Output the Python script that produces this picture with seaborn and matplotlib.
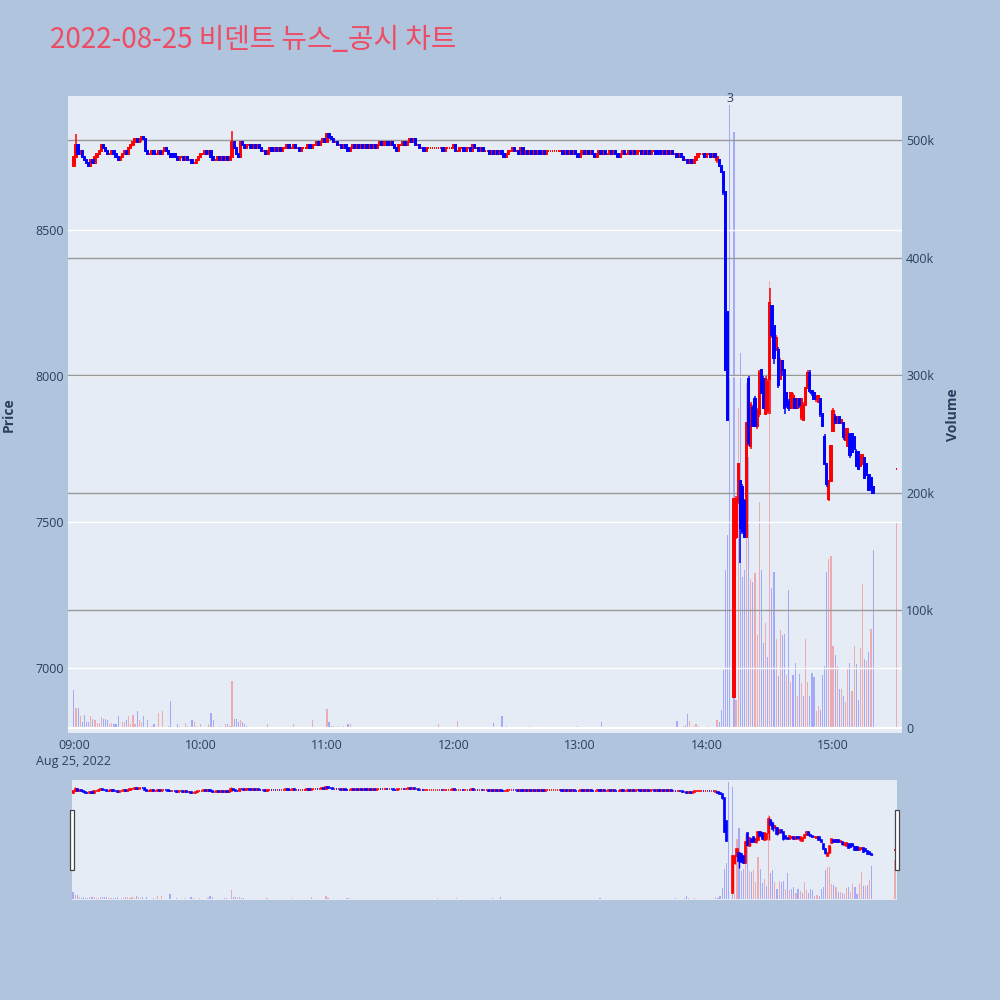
import numpy as np
import pandas as pd
import matplotlib
matplotlib.use("Agg")
import matplotlib.pyplot as plt
import seaborn as sns
from matplotlib.patches import Rectangle
from matplotlib.transforms import blended_transform_factory

# ---------------- data ----------------
title = "2022-08-25 비덴트 뉴스_공시 차트"
day = "2022-08-25"
first_open = 8720
prev_day_close = 8760

# 1-minute closes 09:00 - 14:04 (open = previous close)
calm_close = [
    8750, 8790, 8760, 8770, 8750, 8740, 8730, 8720, 8740, 8730,
    8750, 8760, 8770, 8790, 8780, 8770, 8760, 8760, 8770, 8760,
    8750, 8740, 8750, 8760, 8770, 8760, 8780, 8790, 8800, 8810,
    8800, 8810, 8820, 8810, 8770, 8760, 8760, 8770, 8760, 8760,
    8770, 8760, 8770, 8780, 8770, 8760, 8750, 8760, 8750, 8740,
    8750, 8750, 8740, 8750, 8740, 8740, 8730, 8730, 8740, 8750,
    8760, 8760, 8770, 8760, 8770, 8750, 8740, 8740, 8750, 8740,
    8750, 8740, 8750, 8740, 8750, 8800, 8780, 8760, 8750, 8800,
    8790, 8780, 8790, 8790, 8780, 8790, 8780, 8790, 8780, 8770,
    8770, 8760, 8770, 8780, 8770, 8780, 8770, 8780, 8770, 8780,
    8780, 8790, 8780, 8780, 8790, 8780, 8780, 8770, 8780, 8780,
    8780, 8790, 8780, 8790, 8790, 8800, 8790, 8800, 8810, 8800,
    8830, 8820, 8810, 8800, 8800, 8790, 8790, 8780, 8790, 8780,
    8770, 8780, 8790, 8780, 8790, 8780, 8790, 8780, 8790, 8780,
    8790, 8780, 8790, 8780, 8790, 8800, 8790, 8800, 8800, 8790,
    8800, 8790, 8780, 8770, 8790, 8790, 8800, 8790, 8800, 8810,
    8800, 8810, 8790, 8790, 8780, 8780, 8770, 8780, 8780, 8780,
    8780, 8780, 8780, 8780, 8780, 8770, 8780, 8780, 8780, 8780,
    8790, 8770, 8770, 8780, 8780, 8770, 8780, 8780, 8770, 8790,
    8780, 8780, 8770, 8780, 8770, 8770, 8770, 8760, 8770, 8760,
    8770, 8760, 8770, 8760, 8750, 8760, 8770, 8770, 8780, 8770,
    8770, 8760, 8780, 8760, 8770, 8760, 8770, 8760, 8770, 8760,
    8770, 8760, 8770, 8760, 8770, 8770, 8770, 8770, 8770, 8770,
    8770, 8770, 8760, 8770, 8760, 8770, 8760, 8770, 8760, 8750,
    8760, 8770, 8760, 8770, 8760, 8770, 8760, 8750, 8760, 8770,
    8760, 8770, 8760, 8760, 8770, 8760, 8770, 8760, 8750, 8760,
    8770, 8760, 8760, 8770, 8760, 8770, 8760, 8770, 8770, 8760,
    8770, 8760, 8770, 8760, 8770, 8770, 8760, 8770, 8760, 8770,
    8760, 8770, 8760, 8770, 8760, 8760, 8750, 8760, 8750, 8740,
    8740, 8730, 8740, 8730, 8740, 8750, 8760, 8760, 8760, 8750,
    8760, 8760, 8750, 8760, 8750,
]
# wick extremes in the calm session {minute: (high, low)}
calm_wicks = {0: (8750, 8720), 1: (8830, 8750), 32: (8820, 8800),
              75: (8840, 8750), 120: (8830, 8800), 121: (8830, 8810)}

# volume (thousand shares) 09:00 - 14:04
calm_volume = [
    32, 17, 17, 10, 5, 11, 5, 5, 10, 8,
    7, 4, 4, 9, 8, 8, 7, 3, 4, 3,
    3, 10, 1, 5, 5, 7, 10, 3, 11, 3,
    14, 7, 5, 10, 1, 7, 1, 2, 3, 1,
    13, 1, 14, 1, 1, 2, 23, 1, 1, 3,
    2, 1, 1, 4, 2, 1, 7, 5, 2, 1,
    3, 1, 1, 1, 3, 13, 7, 1, 1, 2,
    1, 1, 3, 3, 2, 40, 8, 8, 5, 7,
    5, 3, 2, 1, 1, 1, 1, 1, 0.5, 1,
    1, 1, 3, 1, 0.5, 1, 1, 0.5, 1, 1,
    1, 0.5, 1, 1, 3, 1, 0.5, 1, 1, 0.5,
    1, 0.5, 1, 7, 1, 0.5, 1, 1, 0.5, 1,
    16, 5, 2, 2, 1, 2, 1, 1, 2, 1,
    3, 3, 1, 0.5, 1, 0.5, 1, 0.5, 0.5, 1,
    0.5, 1, 0.5, 0.5, 1, 0.5, 1, 0.5, 1, 0.5,
    1, 0.5, 0.5, 1, 0.5, 1, 0.5, 0.5, 1, 0.5,
    0.5, 1, 0.5, 0.5, 1, 0.5, 0.5, 1, 0.5, 0.5,
    1, 0.5, 0.5, 3, 0.5, 0.5, 1, 0.5, 0.5, 1,
    0.5, 1, 6, 0.5, 0.5, 1, 0.5, 0.5, 1, 0.5,
    0.5, 1, 0.5, 0.5, 1, 0.5, 0.5, 1, 0.5, 4.5,
    1, 0.5, 1, 10, 1, 2, 0.5, 1, 0.5, 1,
    0.5, 1, 1, 1, 0.5, 1, 2, 1, 0.5, 1,
    0.5, 1, 0.5, 0.5, 1, 0.5, 0.5, 1, 0.5, 0.5,
    1, 0.5, 0.5, 1, 0.5, 1, 0.5, 0.5, 1, 2,
    0.5, 1, 0.5, 0.5, 1, 0.5, 1, 0.5, 0.5, 1,
    5, 1, 0.5, 0.5, 1, 0.5, 0.5, 1, 0.5, 0.5,
    1, 0.5, 0.5, 1, 0.5, 0.5, 1, 0.5, 0.5, 1,
    0.5, 0.5, 1, 0.5, 0.5, 1, 0.5, 0.5, 1, 0.5,
    1, 0.5, 0.5, 1, 0.5, 0.5, 6, 1, 0.5, 2,
    2.5, 12, 6, 1, 2, 3, 2, 1, 0.5, 1,
    0.5, 2, 1, 0.5, 1,
]

# 14:05 - 15:19 full OHLC (None = no candle)
late_open = [8740, 8740, 8720, 8700, 8630, 8220, None, None, 6900, 7450,
             7570, 7640, 7620, 7570, 7450, 7990, 7760, 7890, 7920, 7830,
             7870, 8020, 7990, 7870, 7880, 7990, 8240, 8170, 8090, 8090,
             7990, 8050, 8020, 7940, 7910, 7890, 7900, 7920, 7890, 7920,
             7860, 7850, 7900, 7960, 8010, 7950, 7940, 7920, 7910, 7920,
             7870, 7790, 7700, 7580, 7640, 7810, 7860, 7840, 7860, 7840,
             7840, 7780, 7760, 7800, 7800, 7790, 7740, 7740, 7690, 7700,
             7720, 7700, 7660, 7650, 7620]
late_high = [8750, 8740, 8720, 8700, 8630, 8220, None, None, 7580, 7590,
             7700, 7640, 7630, 7580, 7840, 8000, 7910, 7900, 7930, 7890,
             8020, 8020, 8000, 8000, 7990, 8300, 8240, 8170, 8140, 8100,
             8060, 8050, 8020, 7940, 7920, 7940, 7940, 7920, 7920, 7920,
             7920, 7910, 7960, 8020, 8020, 7950, 7940, 7930, 7930, 7920,
             7870, 7800, 7700, 7640, 7760, 7890, 7870, 7860, 7860, 7850,
             7840, 7820, 7820, 7800, 7800, 7790, 7750, 7740, 7730, 7730,
             7720, 7700, 7660, 7650, 7620]
late_low = [8730, 8720, 8700, 8620, 8020, 7850, None, None, 6900, 7440,
            7560, 7360, 7460, 7450, 7450, 7760, 7750, 7830, 7830, 7820,
            7860, 7940, 7890, 7870, 7870, 7870, 8130, 8040, 8090, 7960,
            7990, 8000, 7870, 7890, 7880, 7890, 7900, 7890, 7890, 7890,
            7850, 7850, 7900, 7960, 7940, 7930, 7920, 7910, 7910, 7860,
            7830, 7700, 7620, 7570, 7640, 7810, 7840, 7840, 7840, 7840,
            7780, 7780, 7760, 7720, 7740, 7750, 7690, 7680, 7690, 7700,
            7650, 7660, 7610, 7620, 7600]
late_close = [8750, 8720, 8700, 8630, 8020, 7850, None, None, 7580, 7580,
              7700, 7480, 7470, 7450, 7840, 7770, 7900, 7830, 7830, 7880,
              8010, 7940, 7890, 7990, 7980, 8250, 8140, 8060, 8130, 7970,
              8050, 8020, 7890, 7900, 7890, 7940, 7930, 7890, 7920, 7900,
              7920, 7900, 7960, 8010, 7950, 7940, 7920, 7930, 7930, 7870,
              7830, 7700, 7630, 7640, 7760, 7880, 7840, 7860, 7840, 7850,
              7790, 7820, 7820, 7730, 7740, 7750, 7690, 7680, 7730, 7730,
              7650, 7660, 7610, 7620, 7600]
late_volume = [7, 5, 15, 49, 134, 164, 530, None, 507, 24,
               272, 319, 128, 134, 293, 230, 127, 124, 132, 79,
               192, 134, 72, 89, 60, 380, 119, 133, 76, 44,
               83, 79, 80, 45, 117, 39, 45, 55, 27, 46,
               38, 27, 76, 39, 27, 47, 43, 14, 19, 15,
               45, 53, 133, 144, 146, 70, 62, 53, 33, 33,
               27, 22, 51, 55, 31, 70, 54, 24, 68, 122,
               59, 57, 65, 84, 151]

# closing auction 15:30
auction_time = "15:30"
auction_price = 7680
auction_volume = 175

# news annotation
news_time = "14:11"
news_count = "3"

# ---------------- assemble table ----------------
t0 = pd.Timestamp(f"{day} 09:00")
n_calm = len(calm_close)
times = list(pd.date_range(t0, periods=n_calm + len(late_close), freq="min"))
times.append(pd.Timestamp(f"{day} {auction_time}"))

opens = [first_open] + calm_close[:-1] + late_open + [auction_price]
closes = calm_close + late_close + [auction_price]
highs, lows = [], []
for i in range(n_calm):
    o, c = opens[i], calm_close[i]
    h, l = calm_wicks.get(i, (max(o, c), min(o, c)))
    highs.append(max(h, o, c)); lows.append(min(l, o, c))
highs += late_high + [auction_price]
lows += late_low + [auction_price]
vols = calm_volume + late_volume + [auction_volume]

df = pd.DataFrame({"time": times, "open": opens, "high": highs,
                   "low": lows, "close": closes, "volume": vols})
df = df.astype({"open": float, "high": float, "low": float,
                "close": float, "volume": float})
df["x"] = (df["time"] - t0).dt.total_seconds() / 60.0

prev = prev_day_close
cdir, vdir = [], []
for o, c in zip(df["open"], df["close"]):
    if np.isnan(c):
        cdir.append(None); vdir.append("down"); continue
    up = (c > o) or (c == o and c >= prev)
    cdir.append("up" if up else "down")
    vdir.append("up" if c >= prev else "down")
    prev = c
df["cdir"] = cdir
df["vdir"] = vdir
df["volume"] = df["volume"] * 1000

cand = df.dropna(subset=["close"])
vol_df = df.dropna(subset=["volume"])[["x", "volume", "vdir"]]

# ---------------- style ----------------
sns.set_theme(style="white")
plt.rcParams["font.family"] = ["Open Sans", "Noto Sans CJK KR", "DejaVu Sans"]

BG = "#B0C4DE"
PLOT_BG = "#E5ECF6"
TXT = "#2a3f5f"
UP, DOWN = "#FF0000", "#0000FF"
PRICE_LIM = (6777, 8959)
VOL_LIM = (-4300, 537400)

fig = plt.figure(figsize=(10, 10), dpi=100, facecolor=BG)


def draw_panel(ax_v, body_lw, wick_lw, body_w):
    ax_v.set_facecolor(PLOT_BG)
    sns.barplot(data=vol_df, x="x", y="volume", hue="vdir",
                palette={"up": UP, "down": DOWN}, saturation=1,
                native_scale=True, width=0.55, dodge=False, errorbar=None,
                legend=False, alpha=0.28, linewidth=0, ax=ax_v)
    ax_p = ax_v.twinx()
    ax_p.set_axisbelow(True)
    for d, col in (("up", UP), ("down", DOWN)):
        s = cand[cand["cdir"] == d]
        ax_p.vlines(s["x"], s["low"], s["high"], color=col, lw=wick_lw, zorder=3)
        bottom = np.minimum(s["open"], s["close"])
        height = np.abs(s["close"] - s["open"])
        ax_p.bar(s["x"], height, bottom=bottom, width=body_w, color=col,
                 edgecolor=col, linewidth=body_lw, zorder=3)
    ax_p.set_ylim(*PRICE_LIM)
    ax_v.set_ylim(*VOL_LIM)
    for a in (ax_v, ax_p):
        for sp in a.spines.values():
            sp.set_visible(False)
    return ax_p


# main panel
ax_v = fig.add_axes([0.068, 0.267, 0.834, 0.637])
ax_p = draw_panel(ax_v, body_lw=1.4, wick_lw=1.1, body_w=0.6)
ax_v.set_xlim(-2.8, 392.7)

ax_p.yaxis.tick_left()
ax_p.yaxis.set_label_position("left")
ax_v.yaxis.tick_right()
ax_v.yaxis.set_label_position("right")

price_ticks = [7000, 7500, 8000, 8500]
ax_p.set_yticks(price_ticks)
ax_p.set_yticklabels([str(t) for t in price_ticks])
ax_p.grid(axis="y", color="white", lw=1.0)
ax_p.grid(axis="x", visible=False)

vol_ticks = [0, 100000, 200000, 300000, 400000, 500000]
ax_v.set_yticks(vol_ticks)
ax_v.set_yticklabels(["0" if t == 0 else f"{t // 1000}k" for t in vol_ticks])
ax_v.grid(False)
tr = blended_transform_factory(ax_p.transAxes, ax_v.transData)
for t in vol_ticks[1:]:
    ax_p.plot([0, 1], [t, t], transform=tr, color="#999999", lw=1.0, zorder=1)
ax_p.plot([0, 1], [0, 0], transform=tr, color="white", lw=1.6, zorder=1)

hour_ticks = list(range(0, 361, 60))
labels = [(t0 + pd.Timedelta(minutes=m)).strftime("%H:%M") for m in hour_ticks]
labels[0] = labels[0] + "\n" + t0.strftime("%b %d, %Y").replace(" 0", " ")
ax_v.set_xticks(hour_ticks)
ax_v.set_xticklabels(labels, linespacing=1.3)
for a in (ax_v, ax_p):
    a.tick_params(axis="both", length=0, labelsize=9, labelcolor=TXT, pad=3)
ax_v.tick_params(axis="x", pad=4)
ax_v.set_xlabel("")
ax_v.set_ylabel("Volume", fontsize=10, fontweight="bold", color=TXT, labelpad=8)
ax_p.set_ylabel("Price", fontsize=10, fontweight="bold", color=TXT, labelpad=14)

news_x = (pd.Timestamp(f"{day} {news_time}") - t0).total_seconds() / 60.0
news_v = df.loc[df["x"] == news_x, "volume"].iloc[0]
ax_v.text(news_x, news_v, news_count, ha="center", va="bottom", fontsize=9,
          color=TXT, clip_on=False)

# range slider
ax_m = fig.add_axes([0.072, 0.100, 0.825, 0.120])
ax_mp = draw_panel(ax_m, body_lw=1.2, wick_lw=1.0, body_w=0.6)
ax_m.set_xlim(-0.5, 390.95)
for a in (ax_m, ax_mp):
    a.set_xticks([]); a.set_yticks([])
    a.set_xlabel(""); a.set_ylabel("")
    a.grid(False)
for xh in (0.0695, 0.8945):
    fig.patches.append(Rectangle((xh, 0.13), 0.0045, 0.06, transform=fig.transFigure,
                                 facecolor="white", edgecolor="#444444", lw=0.9))

fig.text(0.05, 0.96, title, color="#EE4C64", fontsize=20, va="center",
         ha="left", family=["Noto Sans CJK KR", "DejaVu Sans"])

fig.savefig("out.png", dpi=100, facecolor=BG)
